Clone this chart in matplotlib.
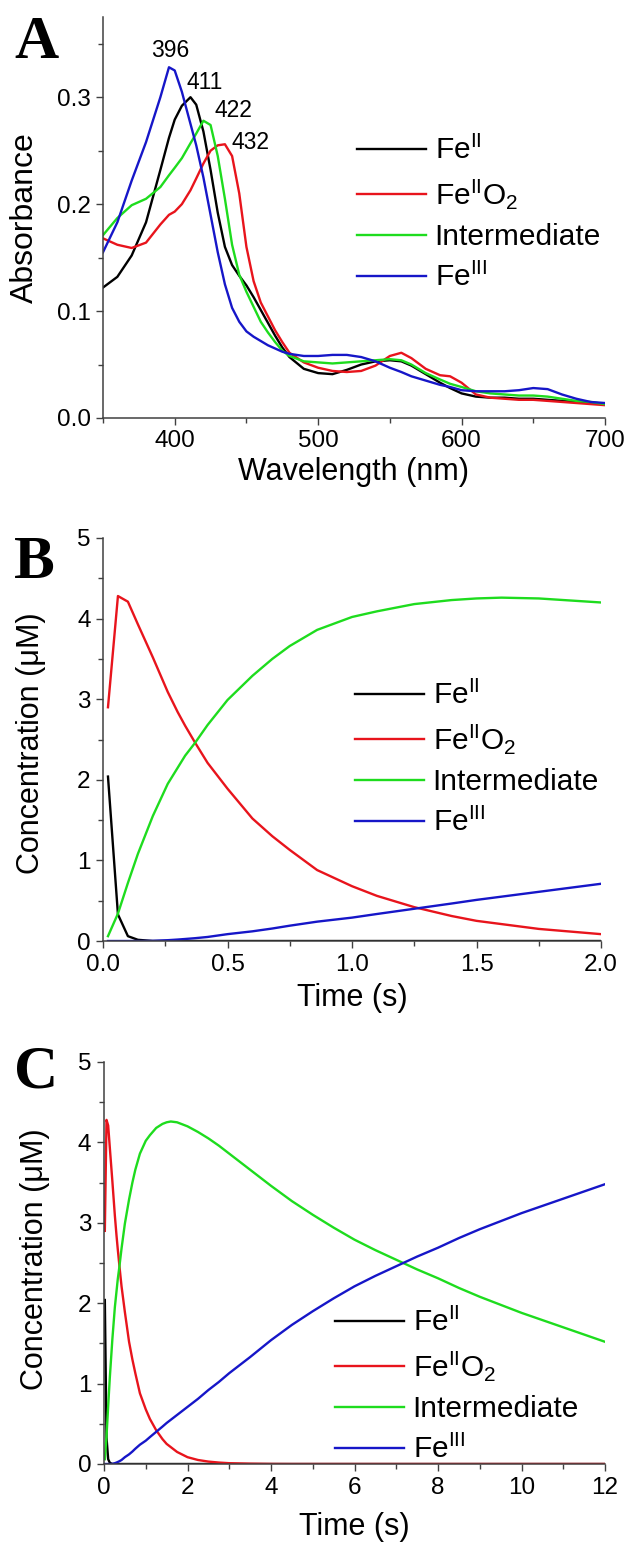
import matplotlib
matplotlib.use('Agg')
import matplotlib.pyplot as plt
from matplotlib.ticker import MultipleLocator, FormatStrFormatter

plt.rcParams['font.family'] = ['Liberation Sans', 'DejaVu Sans']
plt.rcParams['mathtext.fontset'] = 'custom'
plt.rcParams['mathtext.rm'] = 'Liberation Sans'
plt.rcParams['mathtext.it'] = 'Liberation Sans:italic'
plt.rcParams['mathtext.bf'] = 'Liberation Sans:bold'

# ---- panel A: spectra ----
wavelength = [350, 360, 370, 380, 390, 396, 400, 405, 411, 415, 420, 425, 430, 435, 440,
              445, 450, 455, 460, 465, 470, 475, 480, 490, 500, 510, 520, 530, 540, 550,
              558, 565, 575, 585, 592, 600, 610, 620, 630, 640, 650, 660, 670, 680, 690, 700]
abs_feII = [0.122, 0.132, 0.152, 0.183, 0.232, 0.262, 0.279, 0.292, 0.300, 0.293, 0.268, 0.232,
            0.192, 0.160, 0.143, 0.133, 0.124, 0.113, 0.101, 0.089, 0.077, 0.066, 0.057, 0.046,
            0.042, 0.041, 0.045, 0.050, 0.053, 0.054, 0.053, 0.049, 0.041, 0.033, 0.028, 0.023,
            0.020, 0.019, 0.019, 0.018, 0.018, 0.017, 0.016, 0.015, 0.014, 0.013]
abs_feIIO2 = [0.168, 0.162, 0.159, 0.164, 0.181, 0.190, 0.193, 0.200, 0.213, 0.224, 0.238, 0.250,
              0.255, 0.256, 0.245, 0.210, 0.160, 0.128, 0.108, 0.095, 0.082, 0.071, 0.061, 0.052,
              0.047, 0.044, 0.043, 0.044, 0.049, 0.058, 0.061, 0.056, 0.046, 0.040, 0.039, 0.033,
              0.022, 0.019, 0.018, 0.017, 0.017, 0.016, 0.015, 0.014, 0.013, 0.012]
abs_inter = [0.171, 0.187, 0.199, 0.205, 0.216, 0.227, 0.234, 0.243, 0.257, 0.266, 0.278, 0.274,
             0.245, 0.205, 0.162, 0.134, 0.118, 0.104, 0.090, 0.080, 0.071, 0.063, 0.058, 0.053,
             0.052, 0.051, 0.052, 0.053, 0.054, 0.055, 0.054, 0.050, 0.042, 0.036, 0.032, 0.029,
             0.025, 0.023, 0.022, 0.021, 0.021, 0.020, 0.018, 0.016, 0.015, 0.013]
abs_feIII = [0.155, 0.183, 0.222, 0.258, 0.300, 0.328, 0.325, 0.305, 0.275, 0.255, 0.225, 0.190,
             0.155, 0.125, 0.103, 0.090, 0.081, 0.076, 0.072, 0.068, 0.065, 0.062, 0.060, 0.058,
             0.058, 0.059, 0.059, 0.057, 0.053, 0.047, 0.043, 0.039, 0.035, 0.031, 0.029, 0.026,
             0.025, 0.025, 0.025, 0.026, 0.028, 0.027, 0.022, 0.018, 0.015, 0.014]
peak_labels = ['396', '411', '422', '432']
peak_text_x = [397, 421, 441, 453]
peak_text_y = [0.344, 0.314, 0.288, 0.258]

# ---- panels B and C: simulated kinetics (same run, two time windows) ----
time_s = [0.02, 0.06, 0.10, 0.14, 0.2, 0.26, 0.3, 0.33, 0.37, 0.42, 0.5, 0.6, 0.68, 0.75,
          0.86, 1.0, 1.1, 1.25, 1.4, 1.5, 1.6, 1.75, 2.0, 2.25, 2.5, 2.75, 3.0, 3.5, 4.0, 4.5,
          5.0, 5.5, 6.0, 6.5, 7.0, 7.5, 8.0, 8.5, 9.0, 9.5, 10, 10.5, 11, 11.5, 12]
conc_feII = [2.04, 0.33, 0.06, 0.015, 0, 0, 0, 0, 0, 0, 0, 0, 0, 0, 0, 0, 0, 0, 0, 0, 0, 0,
             0, 0, 0, 0, 0, 0, 0, 0, 0, 0, 0, 0, 0, 0, 0, 0, 0, 0, 0, 0, 0, 0, 0]
conc_feIIO2 = [2.90, 4.28, 4.21, 3.93, 3.52, 3.09, 2.84, 2.67, 2.46, 2.21, 1.89, 1.52, 1.30,
               1.13, 0.88, 0.68, 0.56, 0.42, 0.31, 0.25, 0.21, 0.15, 0.085, 0.05, 0.03, 0.018,
               0.01, 0.004, 0.001, 0, 0, 0, 0, 0, 0, 0, 0, 0, 0, 0, 0, 0, 0, 0, 0]
conc_inter = [0.06, 0.34, 0.72, 1.08, 1.55, 1.95, 2.15, 2.30, 2.46, 2.68, 2.99, 3.29, 3.50,
              3.66, 3.86, 4.02, 4.09, 4.18, 4.23, 4.25, 4.26, 4.25, 4.20, 4.13, 4.05, 3.96,
              3.86, 3.66, 3.46, 3.27, 3.10, 2.94, 2.79, 2.66, 2.54, 2.42, 2.31, 2.19, 2.08,
              1.98, 1.88, 1.79, 1.70, 1.61, 1.52]
conc_feIII = [0, 0, 0, 0, 0.002, 0.01, 0.018, 0.025, 0.035, 0.05, 0.085, 0.12, 0.155, 0.19,
              0.24, 0.29, 0.335, 0.40, 0.465, 0.51, 0.55, 0.61, 0.71, 0.81, 0.92, 1.02, 1.13,
              1.33, 1.54, 1.73, 1.90, 2.06, 2.21, 2.34, 2.46, 2.58, 2.69, 2.81, 2.92, 3.02,
              3.12, 3.21, 3.30, 3.39, 3.48]

labels = [r'Fe$^{\mathrm{II}}$', r'Fe$^{\mathrm{II}}$O$_{\mathrm{2}}$', 'Intermediate',
          r'Fe$^{\mathrm{III}}$']
colors = ['#000000', '#e8141c', '#1edc1e', '#1616c8']

W, H = 625, 1542
fig = plt.figure(figsize=(W / 100, H / 100), dpi=100)


def make_axes(left, right, top, bottom):
    ax = fig.add_axes([left / W, 1 - bottom / H, (right - left) / W, (bottom - top) / H])
    for s in ['top', 'right']:
        ax.spines[s].set_visible(False)
    for s in ['left', 'bottom']:
        ax.spines[s].set_color('#404040')
        ax.spines[s].set_linewidth(1.1)
    ax.tick_params(which='major', direction='out', length=5, width=1.0, color='#404040',
                   labelsize=17.5, pad=4)
    ax.tick_params(which='minor', direction='out', length=3.5, width=1.0, color='#404040')
    return ax


def add_legend(ax, lines, x, y):
    ax.legend(lines, labels, loc='upper left', bbox_to_anchor=(x / W, 1 - y / H),
              bbox_transform=fig.transFigure, frameon=False, fontsize=21.5,
              handlelength=2.3, handletextpad=0.3, labelspacing=0.40,
              borderpad=0, borderaxespad=0)


# panel A
axA = make_axes(103, 605, 17, 418)
linesA = []
for ys, c in zip([abs_feII, abs_feIIO2, abs_inter, abs_feIII], colors):
    ln, = axA.plot(wavelength, ys, color=c, lw=1.7)
    linesA.append(ln)
for t, x, y in zip(peak_labels, peak_text_x, peak_text_y):
    axA.text(x, y, t, fontsize=16.5, ha='center', va='center')
axA.set_xlim(350, 700)
axA.set_ylim(0, 0.375)
axA.xaxis.set_major_locator(MultipleLocator(100))
axA.xaxis.set_minor_locator(MultipleLocator(50))
axA.yaxis.set_major_locator(MultipleLocator(0.1))
axA.yaxis.set_minor_locator(MultipleLocator(0.05))
axA.yaxis.set_major_formatter(FormatStrFormatter('%.1f'))
axA.set_xlabel('Wavelength (nm)', fontsize=22)
axA.set_ylabel('Absorbance', fontsize=23)
axA.xaxis.set_label_coords(0.5, -0.097)
axA.yaxis.set_label_coords(-0.125, 0.5)
add_legend(axA, linesA, 357, 136)

# panel B
axB = make_axes(103, 601, 538, 941)
linesB = []
for ys, c in zip([conc_feII, conc_feIIO2, conc_inter, conc_feIII], colors):
    ln, = axB.plot(time_s, ys, color=c, lw=1.7)
    linesB.append(ln)
axB.set_xlim(0, 2.0)
axB.set_ylim(0, 5)
axB.xaxis.set_major_locator(MultipleLocator(0.5))
axB.xaxis.set_minor_locator(MultipleLocator(0.25))
axB.xaxis.set_major_formatter(FormatStrFormatter('%.1f'))
axB.yaxis.set_major_locator(MultipleLocator(1))
axB.yaxis.set_minor_locator(MultipleLocator(0.5))
axB.set_xlabel('Time (s)', fontsize=22)
axB.set_ylabel('Concentration (\u03bcM)', fontsize=22)
axB.xaxis.set_label_coords(0.5, -0.104)
axB.yaxis.set_label_coords(-0.114, 0.49)
add_legend(axB, linesB, 355, 681)

# panel C
axC = make_axes(104, 605, 1062, 1464)
linesC = []
for ys, c in zip([conc_feII, conc_feIIO2, conc_inter, conc_feIII], colors):
    ln, = axC.plot(time_s, ys, color=c, lw=1.7)
    linesC.append(ln)
axC.set_xlim(0, 12)
axC.set_ylim(0, 5)
axC.xaxis.set_major_locator(MultipleLocator(2))
axC.xaxis.set_minor_locator(MultipleLocator(1))
axC.yaxis.set_major_locator(MultipleLocator(1))
axC.yaxis.set_minor_locator(MultipleLocator(0.5))
axC.set_xlabel('Time (s)', fontsize=22)
axC.set_ylabel('Concentration (\u03bcM)', fontsize=22)
axC.xaxis.set_label_coords(0.5, -0.12)
axC.yaxis.set_label_coords(-0.108, 0.51)
add_legend(axC, linesC, 335, 1308)

# panel letters
for letter, ybase in zip(['A', 'B', 'C'], [58, 578, 1088]):
    fig.text(14 / W, 1 - ybase / H, letter, fontsize=44, fontweight='bold',
             family='Liberation Serif', ha='left', va='baseline')

fig.savefig('out.png', dpi=100)
